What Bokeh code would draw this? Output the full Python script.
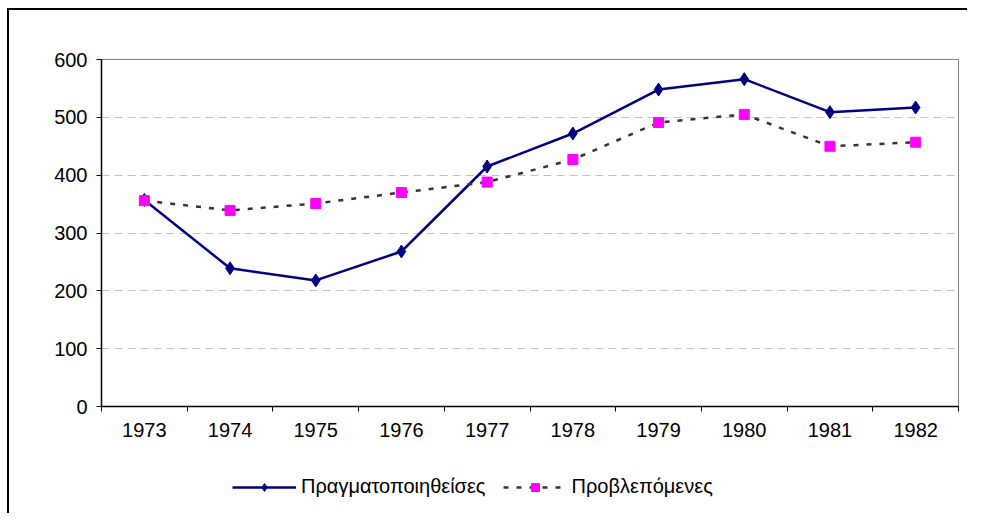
from bokeh.plotting import figure
from bokeh.layouts import column
from bokeh.models import (ColumnDataSource, FixedTicker, Legend, LegendItem, Range1d)
from bokeh.embed import file_html
from bokeh.resources import INLINE

years = ["1973", "1974", "1975", "1976", "1977", "1978", "1979", "1980", "1981", "1982"]
actual = [357, 239, 218, 268, 415, 472, 548, 566, 509, 517]
forecast = [356, 339, 351, 370, 388, 427, 491, 505, 450, 457]
label_actual = "Πραγματοποιηθείσες"
label_forecast = "Προβλεπόμενες"

pos = [i + 0.5 for i in range(len(years))]
src = ColumnDataSource(dict(x=pos, actual=actual, forecast=forecast, year=years))

FONT = "Liberation Sans"
NAVY = "#000080"
MAGENTA = "#FF00FF"
DASHC = "#333333"

p = figure(width=960, height=450, output_backend="svg", toolbar_location=None,
           x_range=Range1d(0, len(years)), y_range=Range1d(0, 600),
           min_border_left=92, min_border_top=49, min_border_right=11, min_border_bottom=54)
p.margin = (8, 0, 0, 7)
p.styles = {"border-left": "2px solid black", "border-top": "2px solid black"}
p.outline_line_color = "#808080"
p.outline_line_width = 1

# grid
p.xgrid.grid_line_color = None
p.ygrid.grid_line_color = "#c0c0c0"
p.ygrid.grid_line_dash = "8 5"
p.ygrid.ticker = FixedTicker(ticks=[100, 200, 300, 400, 500])

# y axis
p.yaxis.ticker = FixedTicker(ticks=[0, 100, 200, 300, 400, 500, 600])
p.yaxis.axis_line_color = "black"
p.yaxis.axis_line_width = 1.5
p.yaxis.major_tick_line_color = "black"
p.yaxis.major_tick_out = 5
p.yaxis.major_tick_in = 0
p.yaxis.minor_tick_line_color = None
p.yaxis.major_label_text_font = FONT
p.yaxis.major_label_text_font_size = "20px"
p.yaxis.major_label_text_color = "black"
p.yaxis.major_label_standoff = 9

# x axis
p.xaxis.ticker = FixedTicker(ticks=pos, minor_ticks=list(range(len(years) + 1)))
p.xaxis.major_label_overrides = {pp: y for pp, y in zip(pos, years)}
p.xaxis.axis_line_color = "black"
p.xaxis.axis_line_width = 1.5
p.xaxis.major_tick_line_color = None
p.xaxis.major_tick_out = 5
p.xaxis.minor_tick_line_color = "black"
p.xaxis.minor_tick_out = 5
p.xaxis.minor_tick_in = 0
p.xaxis.major_label_text_font = FONT
p.xaxis.major_label_text_font_size = "20px"
p.xaxis.major_label_text_color = "black"
p.xaxis.major_label_standoff = 11

# series
p.line("x", "actual", source=src, line_color=NAVY, line_width=2.5)
p.scatter("x", "actual", source=src, marker="diamond", size=13,
          fill_color=NAVY, line_color=NAVY)
p.line("x", "forecast", source=src, line_color=DASHC, line_width=2.5, line_dash="5 8")
p.scatter("x", "forecast", source=src, marker="square", size=10,
          fill_color=MAGENTA, line_color=MAGENTA)

# legend strip below the chart (its glyphs fall outside this strip's ranges,
# so only the legend keys are visible)
lg = figure(width=960, height=55, output_backend="svg", toolbar_location=None,
            x_range=Range1d(0, 1), y_range=Range1d(0, 1),
            min_border_left=0, min_border_right=0, min_border_top=0, min_border_bottom=0)
lg.margin = (0, 0, 0, 7)
lg.styles = {"border-left": "2px solid black"}
lg.axis.visible = False
lg.grid.visible = False
lg.outline_line_color = None
ll1 = lg.line("x", "actual", source=src, line_color=NAVY, line_width=2.5)
lm1 = lg.scatter("x", "actual", source=src, marker="diamond", size=13,
                 fill_color=NAVY, line_color=NAVY)
ll2 = lg.line("x", "forecast", source=src, line_color=DASHC, line_width=2.5, line_dash="5 8")
lm2 = lg.scatter("x", "forecast", source=src, marker="square", size=10,
                 fill_color=MAGENTA, line_color=MAGENTA)

legend = Legend(items=[LegendItem(label=label_actual, renderers=[ll1, lm1]),
                       LegendItem(label=label_forecast, renderers=[ll2, lm2])],
                orientation="horizontal", location=(131, 15),
                glyph_width=64, glyph_height=20, label_standoff=5, spacing=17,
                padding=0, margin=0, border_line_color=None, background_fill_alpha=0,
                label_text_font=FONT, label_text_font_size="20px", label_text_color="black")
lg.add_layout(legend)

layout = column(p, lg, spacing=0)
open("out.html", "w").write(file_html(layout, INLINE))
